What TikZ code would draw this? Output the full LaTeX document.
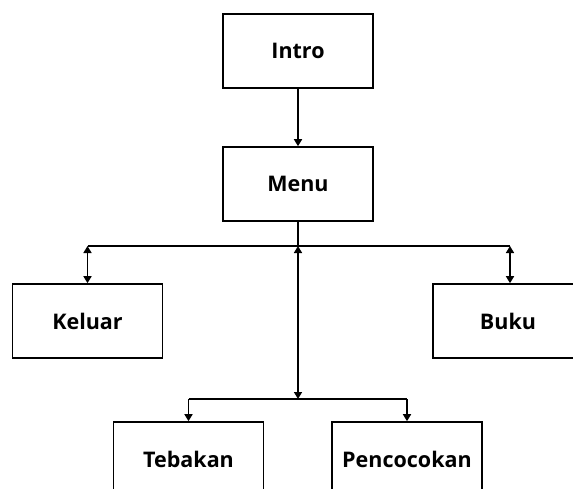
\documentclass[tikz,border=0pt]{standalone}
\usepackage{fontspec}
\setmainfont{Open Sans}
\usetikzlibrary{arrows.meta}
\tikzset{
  box/.style={draw, line width=1.6pt, minimum width=150pt, minimum height=74pt, inner sep=0pt, font=\fontsize{21.5}{24}\selectfont\bfseries},
  conn/.style={line width=1.6pt},
  arr/.style={conn, -{Triangle[length=7pt,width=8pt]}},
  darr/.style={conn, {Triangle[length=7pt,width=8pt]}-{Triangle[length=7pt,width=8pt]}}
}
\begin{document}
\begin{tikzpicture}[x=1pt,y=-1pt]
\useasboundingbox (0,0) rectangle (573,488);
\clip (0,0) rectangle (573,488);
\node[box] (intro) at (298,51) {Intro};
\node[box] (menu) at (298,184) {Menu};
\node[box] (keluar) at (87.5,321) {Keluar};
\node[box] (buku) at (508,321) {Buku};
\node[box] (tebakan) at (188.5,459) {Tebakan};
\node[box] (pencocokan) at (407,459) {Pencocokan};
\coordinate (jc) at (298,246);
\coordinate (jl) at (87.5,246);
\coordinate (jr) at (510,246);
\coordinate (lc) at (298,399);
\coordinate (ll) at (188.5,399);
\coordinate (lr) at (407,399);
\draw[arr] (intro) -- (menu);
\draw[conn] (menu.south) -- (jc);
\draw[conn] (jl) -- (jr);
\draw[darr] (jl) -- (keluar.north);
\draw[darr] (jr) -- (jr |- buku.north);
\draw[darr] (jc) -- (lc);
\draw[conn] (ll) -- (lr);
\draw[arr] (ll) -- (tebakan.north);
\draw[arr] (lr) -- (pencocokan.north);
\end{tikzpicture}
\end{document}
